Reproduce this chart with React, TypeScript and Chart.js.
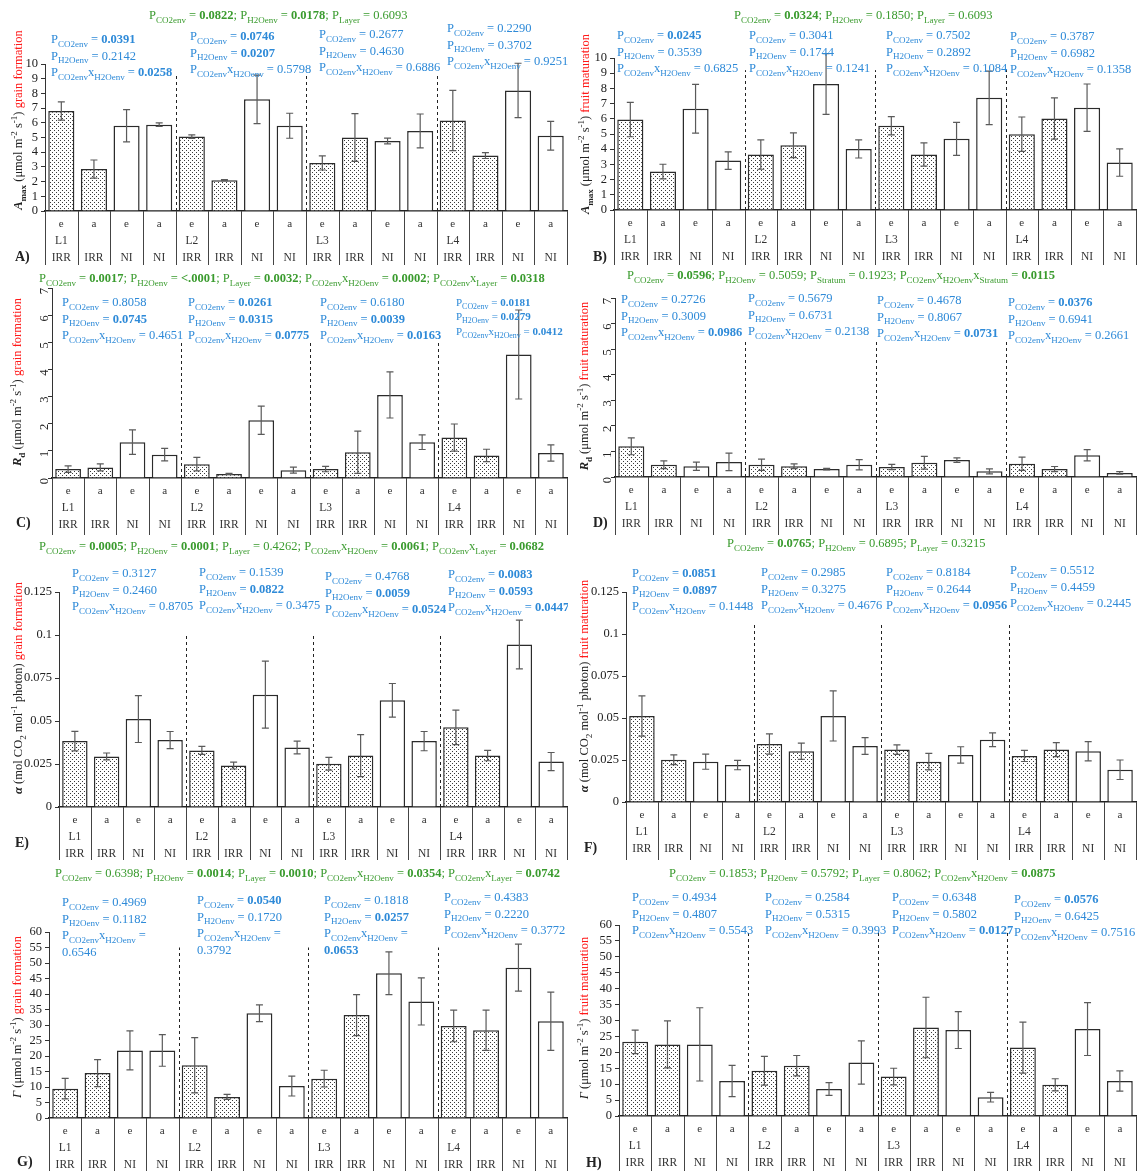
import React, { useEffect, useRef } from 'react';
import { Chart, registerables } from 'chart.js';

Chart.register(...registerables);

const FONT = '"Liberation Serif", "Times New Roman", Times, serif';
const BLUE = '#2e8ad8';
const GREEN = '#3a9b2e';
const RED = '#ff1a1a';
const INK = '#222222';
const TXT = 12.5;

// ---------- categories ----------
const envLabels = ['e', 'a', 'e', 'a', 'e', 'a', 'e', 'a', 'e', 'a', 'e', 'a', 'e', 'a', 'e', 'a'];
const layerLabels = ['L1', '', '', '', 'L2', '', '', '', 'L3', '', '', '', 'L4', '', '', ''];
const waterLabels = ['IRR', 'IRR', 'NI', 'NI', 'IRR', 'IRR', 'NI', 'NI', 'IRR', 'IRR', 'NI', 'NI', 'IRR', 'IRR', 'NI', 'NI'];

// ---------- series values (mean, error) ----------
const amaxGrain = [6.8, 2.85, 5.8, 5.87, 5.06, 2.1, 7.6, 5.8, 3.27, 5.0, 4.76, 5.45, 6.16, 3.77, 8.2, 5.12];
const amaxGrainErr = [0.62, 0.62, 1.1, 0.12, 0.12, 0.04, 1.65, 0.85, 0.48, 1.62, 0.2, 1.15, 2.05, 0.2, 1.85, 0.98];

const amaxFruit = [5.95, 2.53, 6.66, 3.25, 3.65, 4.26, 8.29, 4.02, 5.54, 3.65, 4.68, 7.38, 4.99, 6.02, 6.73, 3.12];
const amaxFruitErr = [1.13, 0.48, 1.6, 0.58, 0.97, 0.82, 2.0, 0.6, 0.6, 0.76, 1.08, 1.76, 1.13, 1.36, 1.56, 0.9];

const rdGrain = [0.33, 0.39, 1.32, 0.86, 0.51, 0.15, 2.13, 0.29, 0.33, 0.95, 3.06, 1.32, 1.49, 0.83, 4.55, 0.92];
const rdGrainErr = [0.12, 0.13, 0.45, 0.23, 0.25, 0.02, 0.52, 0.11, 0.1, 0.78, 0.85, 0.27, 0.5, 0.23, 1.64, 0.3];

const rdFruit = [1.2, 0.48, 0.42, 0.59, 0.48, 0.42, 0.31, 0.48, 0.39, 0.56, 0.66, 0.22, 0.52, 0.31, 0.85, 0.16];
const rdFruitErr = [0.33, 0.15, 0.16, 0.34, 0.22, 0.09, 0.03, 0.2, 0.1, 0.25, 0.09, 0.1, 0.26, 0.1, 0.22, 0.05];

const alphaGrain = [0.0383, 0.0294, 0.0511, 0.0389, 0.0329, 0.0241, 0.0653, 0.0346, 0.0251, 0.0299, 0.062, 0.0383, 0.0463, 0.0299, 0.0945, 0.0264];
const alphaGrainErr = [0.0057, 0.002, 0.0136, 0.005, 0.0023, 0.002, 0.0195, 0.0037, 0.0037, 0.0122, 0.0098, 0.0056, 0.01, 0.003, 0.0142, 0.0053];

const alphaFruit = [0.0512, 0.0252, 0.024, 0.022, 0.0345, 0.0302, 0.0512, 0.0333, 0.0312, 0.024, 0.028, 0.0371, 0.0274, 0.0312, 0.0302, 0.0192];
const alphaFruitErr = [0.012, 0.0029, 0.0045, 0.0028, 0.006, 0.0048, 0.0149, 0.005, 0.0028, 0.0049, 0.0049, 0.0041, 0.0033, 0.0042, 0.0057, 0.0058];

const gammaGrain = [9.46, 14.5, 21.8, 21.8, 17.0, 6.8, 33.8, 10.3, 12.7, 33.2, 46.7, 37.6, 29.7, 28.3, 48.5, 31.2];
const gammaGrainErr = [3.3, 4.35, 6.3, 5.1, 8.9, 0.8, 2.7, 3.2, 2.7, 6.6, 6.9, 7.6, 5.1, 6.5, 7.6, 9.4];

const gammaFruit = [23.3, 22.5, 22.5, 11.0, 14.2, 15.8, 8.5, 16.8, 12.4, 27.8, 27.0, 5.9, 21.5, 9.8, 27.3, 11.0];
const gammaFruitErr = [3.7, 7.4, 11.5, 4.9, 4.5, 3.2, 2.0, 6.8, 2.6, 9.5, 5.8, 1.5, 8.0, 1.9, 8.3, 3.2];

// ---------- p-values ----------
const layerTerms = ['CO2env', 'H2Oenv', 'CO2env|H2Oenv'];

const pMainA: [string, string][] = [['CO2env', '0.0822'], ['H2Oenv', '0.0178'], ['Layer', '0.6093']];
const pLayersA = [['0.0391', '0.2142', '0.0258'], ['0.0746', '0.0207', '0.5798'], ['0.2677', '0.4630', '0.6886'], ['0.2290', '0.3702', '0.9251']];

const pMainB: [string, string][] = [['CO2env', '0.0324'], ['H2Oenv', '0.1850'], ['Layer', '0.6093']];
const pLayersB = [['0.0245', '0.3539', '0.6825'], ['0.3041', '0.1744', '0.1241'], ['0.7502', '0.2892', '0.1084'], ['0.3787', '0.6982', '0.1358']];

const pMainC: [string, string][] = [['CO2env', '0.0017'], ['H2Oenv', '<.0001'], ['Layer', '0.0032'], ['CO2env|H2Oenv', '0.0002'], ['CO2env|Layer', '0.0318']];
const pLayersC = [['0.8058', '0.0745', '0.4651'], ['0.0261', '0.0315', '0.0775'], ['0.6180', '0.0039', '0.0163'], ['0.0181', '0.0279', '0.0412']];

const pMainD: [string, string][] = [['CO2env', '0.0596'], ['H2Oenv', '0.5059'], ['Stratum', '0.1923'], ['CO2env|H2Oenv|Stratum', '0.0115']];
const pLayersD = [['0.2726', '0.3009', '0.0986'], ['0.5679', '0.6731', '0.2138'], ['0.4678', '0.8067', '0.0731'], ['0.0376', '0.6941', '0.2661']];

const pMainE: [string, string][] = [['CO2env', '0.0005'], ['H2Oenv', '0.0001'], ['Layer', '0.4262'], ['CO2env|H2Oenv', '0.0061'], ['CO2env|Layer', '0.0682']];
const pLayersE = [['0.3127', '0.2460', '0.8705'], ['0.1539', '0.0822', '0.3475'], ['0.4768', '0.0059', '0.0524'], ['0.0083', '0.0593', '0.0447']];

const pMainF: [string, string][] = [['CO2env', '0.0765'], ['H2Oenv', '0.6895'], ['Layer', '0.3215']];
const pLayersF = [['0.0851', '0.0897', '0.1448'], ['0.2985', '0.3275', '0.4676'], ['0.8184', '0.2644', '0.0956'], ['0.5512', '0.4459', '0.2445']];

const pMainG: [string, string][] = [['CO2env', '0.6398'], ['H2Oenv', '0.0014'], ['Layer', '0.0010'], ['CO2env|H2Oenv', '0.0354'], ['CO2env|Layer', '0.0742']];
const pLayersG = [['0.4969', '0.1182', '0.6546'], ['0.0540', '0.1720', '0.3792'], ['0.1818', '0.0257', '0.0653'], ['0.4383', '0.2220', '0.3772']];

const pMainH: [string, string][] = [['CO2env', '0.1853'], ['H2Oenv', '0.5792'], ['Layer', '0.8062'], ['CO2env|H2Oenv', '0.0875']];
const pLayersH = [['0.4934', '0.4807', '0.5543'], ['0.2584', '0.5315', '0.3993'], ['0.6348', '0.5802', '0.0127'], ['0.0576', '0.6425', '0.7516']];

// ---------- rich text ----------
type Seg = { t: string; sub?: boolean; sup?: boolean; b?: boolean; i?: boolean; c?: string };

const isSig = (v: string) => v.startsWith('<') || parseFloat(v) < 0.1;

function pSegs(term: string, value: string, withValue = true): Seg[] {
  const segs: Seg[] = [{ t: 'P' }];
  term.split('|').forEach((p, k) => {
    if (k) segs.push({ t: 'x' });
    segs.push({ t: p, sub: true });
  });
  segs.push({ t: ' = ' });
  if (withValue) segs.push({ t: value, b: isSig(value) });
  return segs;
}

function segFont(s: Seg, size: number) {
  const sz = s.sub || s.sup ? size * 0.72 : size;
  return `${s.i ? 'italic ' : ''}${s.b ? 'bold ' : ''}${sz}px ${FONT}`;
}

function measureRich(ctx: CanvasRenderingContext2D, segs: Seg[], size: number) {
  let w = 0;
  for (const s of segs) {
    ctx.font = segFont(s, size);
    w += ctx.measureText(s.t).width;
  }
  return w;
}

function drawRich(ctx: CanvasRenderingContext2D, segs: Seg[], x: number, yMid: number, size: number, color: string) {
  let cx = x;
  const base = yMid + size * 0.33;
  ctx.textAlign = 'left';
  ctx.textBaseline = 'alphabetic';
  for (const s of segs) {
    ctx.font = segFont(s, size);
    ctx.fillStyle = s.c || color;
    const dy = s.sub ? size * 0.3 : s.sup ? -size * 0.4 : 0;
    ctx.fillText(s.t, cx, base + dy);
    cx += ctx.measureText(s.t).width;
  }
}

const unitSegs: Seg[] = [{ t: ' (μmol m' }, { t: '-2', sup: true }, { t: ' s' }, { t: '-1', sup: true }, { t: ') ' }];
const titleAmax: Seg[] = [{ t: 'A', b: true, i: true }, { t: 'max', sub: true, b: true }, ...unitSegs];
const titleRd: Seg[] = [{ t: 'R', b: true, i: true }, { t: 'd', sub: true, b: true }, ...unitSegs];
const titleAlpha: Seg[] = [{ t: 'α', b: true, i: true }, { t: ' (mol CO' }, { t: '2', sub: true }, { t: ' mol' }, { t: '-1', sup: true }, { t: ' photon) ' }];
const titleGamma: Seg[] = [{ t: 'Γ', i: true }, ...unitSegs];

// ---------- panel layout ----------
type PanelCfg = {
  letter: string;
  values: number[];
  errors: number[];
  yMax: number;
  yStep: number;
  rotateTicks?: boolean;
  title: Seg[];
  stage: string;
  pMain: [string, string][];
  pLayers: string[][];
  rect: { x: number; y: number; w: number; h: number };
  area: { left: number; top: number; bottom: number };
  dashTop: number;
  titlePos: [number, number];
  greenPos: [number, number];
  blockPos: [number, number][];
  blockScale?: number[];
  wrap?: boolean[];
  letterPos: [number, number];
};

const panels: PanelCfg[] = [
  {
    letter: 'A)', values: amaxGrain, errors: amaxGrainErr, yMax: 10, yStep: 1, title: titleAmax, stage: 'grain formation',
    pMain: pMainA, pLayers: pLayersA, rect: { x: 0, y: 0, w: 568, h: 265 }, area: { left: 45, top: 64, bottom: 211 },
    dashTop: 9.3, titlePos: [18, 120], greenPos: [149, 15], blockPos: [[51, 39], [190, 36], [319, 34], [447, 28]], letterPos: [15, 257],
  },
  {
    letter: 'B)', values: amaxFruit, errors: amaxFruitErr, yMax: 10, yStep: 1, title: titleAmax, stage: 'fruit maturation',
    pMain: pMainB, pLayers: pLayersB, rect: { x: 567, y: 0, w: 570, h: 265 }, area: { left: 47, top: 58, bottom: 210 },
    dashTop: 9.2, titlePos: [18, 124], greenPos: [167, 15], blockPos: [[50, 35], [182, 35], [319, 35], [443, 36]], letterPos: [26, 257],
  },
  {
    letter: 'C)', values: rdGrain, errors: rdGrainErr, yMax: 7, yStep: 1, rotateTicks: true, title: titleRd, stage: 'grain formation',
    pMain: pMainC, pLayers: pLayersC, rect: { x: 0, y: 265, w: 568, h: 270 }, area: { left: 52, top: 23, bottom: 213 },
    dashTop: 5.0, titlePos: [17, 117], greenPos: [39, 13], blockPos: [[62, 37], [188, 37], [320, 37], [456, 37]],
    blockScale: [1, 1, 1, 0.88], letterPos: [16, 258],
  },
  {
    letter: 'D)', values: rdFruit, errors: rdFruitErr, yMax: 7, yStep: 1, rotateTicks: true, title: titleRd, stage: 'fruit maturation',
    pMain: pMainD, pLayers: pLayersD, rect: { x: 567, y: 265, w: 570, h: 270 }, area: { left: 48, top: 33, bottom: 212 },
    dashTop: 5.3, titlePos: [17, 121], greenPos: [60, 10], blockPos: [[54, 34], [181, 33], [310, 35], [441, 37]], letterPos: [26, 258],
  },
  {
    letter: 'E)', values: alphaGrain, errors: alphaGrainErr, yMax: 0.125, yStep: 0.025, title: titleAlpha, stage: 'grain formation',
    pMain: pMainE, pLayers: pLayersE, rect: { x: 0, y: 535, w: 568, h: 325 }, area: { left: 59, top: 57, bottom: 272 },
    dashTop: 0.1, titlePos: [18, 153], greenPos: [39, 11], blockPos: [[72, 38], [199, 37], [325, 41], [448, 39]], letterPos: [15, 308],
  },
  {
    letter: 'F)', values: alphaFruit, errors: alphaFruitErr, yMax: 0.125, yStep: 0.025, title: titleAlpha, stage: 'fruit maturation',
    pMain: pMainF, pLayers: pLayersF, rect: { x: 567, y: 535, w: 570, h: 325 }, area: { left: 59, top: 57, bottom: 267 },
    dashTop: 0.107, titlePos: [17, 151], greenPos: [160, 8], blockPos: [[65, 38], [194, 37], [319, 37], [443, 35]], letterPos: [17, 313],
  },
  {
    letter: 'G)', values: gammaGrain, errors: gammaGrainErr, yMax: 60, yStep: 5, title: titleGamma, stage: 'grain formation',
    pMain: pMainG, pLayers: pLayersG, rect: { x: 0, y: 860, w: 568, h: 311 }, area: { left: 49, top: 72, bottom: 258 },
    dashTop: 55, titlePos: [17, 157], greenPos: [55, 13], blockPos: [[62, 42], [197, 40], [324, 40], [444, 37]],
    wrap: [true, true, true, false], letterPos: [17, 302],
  },
  {
    letter: 'H)', values: gammaFruit, errors: gammaFruitErr, yMax: 60, yStep: 5, title: titleGamma, stage: 'fruit maturation',
    pMain: pMainH, pLayers: pLayersH, rect: { x: 567, y: 860, w: 570, h: 311 }, area: { left: 52, top: 65, bottom: 256 },
    dashTop: 58, titlePos: [17, 158], greenPos: [102, 13], blockPos: [[65, 37], [198, 37], [325, 37], [447, 39]], letterPos: [19, 303],
  },
];

function makePattern(ctx: CanvasRenderingContext2D) {
  const c = document.createElement('canvas');
  c.width = 4;
  c.height = 4;
  const g = c.getContext('2d')!;
  g.fillStyle = '#ffffff';
  g.fillRect(0, 0, 4, 4);
  g.fillStyle = '#3a3a3a';
  g.fillRect(0, 0, 1, 1);
  g.fillRect(2, 2, 1, 1);
  return ctx.createPattern(c, 'repeat')!;
}

function Panel({ cfg }: { cfg: PanelCfg }) {
  const ref = useRef<HTMLCanvasElement>(null);

  useEffect(() => {
    const canvas = ref.current!;
    const ctx0 = canvas.getContext('2d')!;
    const pattern = makePattern(ctx0);
    const { rect, area } = cfg;

    const overlay = {
      id: 'overlay',
      afterDatasetsDraw(chart: any) {
        const { ctx, scales } = chart;
        const xs = scales.x;
        const ys = scales.y;
        const meta = chart.getDatasetMeta(0);
        ctx.save();
        // error bars
        ctx.strokeStyle = '#5a5a5a';
        ctx.lineWidth = 1.2;
        meta.data.forEach((bar: any, i: number) => {
          const v = cfg.values[i];
          const e = cfg.errors[i];
          const x = bar.x;
          const yt = ys.getPixelForValue(v + e);
          const yb = ys.getPixelForValue(Math.max(v - e, 0));
          ctx.beginPath();
          ctx.moveTo(x, yt);
          ctx.lineTo(x, yb);
          ctx.moveTo(x - 3.5, yt);
          ctx.lineTo(x + 3.5, yt);
          ctx.moveTo(x - 3.5, yb);
          ctx.lineTo(x + 3.5, yb);
          ctx.stroke();
        });
        // dashed separators between layers
        ctx.strokeStyle = '#222';
        ctx.lineWidth = 1;
        ctx.setLineDash([3, 3]);
        [4, 8, 12].forEach((k) => {
          const x = Math.round((xs.getPixelForValue(k - 1) + xs.getPixelForValue(k)) / 2) + 0.5;
          ctx.beginPath();
          ctx.moveTo(x, ys.getPixelForValue(0));
          ctx.lineTo(x, ys.getPixelForValue(cfg.dashTop));
          ctx.stroke();
        });
        ctx.restore();
      },
      afterDraw(chart: any) {
        const { ctx, chartArea, scales } = chart;
        const xs = scales.x;
        const n = envLabels.length;
        const centers = envLabels.map((_, i) => xs.getPixelForValue(i));
        const half = (centers[1] - centers[0]) / 2;
        ctx.save();
        // category table below axis
        ctx.strokeStyle = '#444';
        ctx.lineWidth = 1;
        for (let i = 0; i <= n; i++) {
          const xb = i < n ? centers[i] - half : centers[n - 1] + half;
          const x = Math.min(Math.round(xb) + 0.5, chart.width - 0.5);
          ctx.beginPath();
          ctx.moveTo(x, chartArea.bottom);
          ctx.lineTo(x, chart.height);
          ctx.stroke();
        }
        ctx.fillStyle = '#333';
        ctx.textAlign = 'center';
        ctx.textBaseline = 'middle';
        centers.forEach((cx: number, i: number) => {
          ctx.font = `11px ${FONT}`;
          ctx.fillText(envLabels[i], cx, chartArea.bottom + 13);
          ctx.font = `11.5px ${FONT}`;
          if (layerLabels[i]) ctx.fillText(layerLabels[i], cx, chartArea.bottom + 30);
          ctx.fillText(waterLabels[i], cx, chartArea.bottom + 47);
        });

        // panel letter
        ctx.font = `bold 14px ${FONT}`;
        ctx.fillStyle = INK;
        ctx.textAlign = 'left';
        ctx.fillText(cfg.letter, cfg.letterPos[0], cfg.letterPos[1]);

        // y-axis title
        const tsegs: Seg[] = [...cfg.title, { t: cfg.stage, c: RED }];
        const tw = measureRich(ctx, tsegs, TXT);
        ctx.save();
        ctx.translate(cfg.titlePos[0], cfg.titlePos[1]);
        ctx.rotate(-Math.PI / 2);
        drawRich(ctx, tsegs, -tw / 2, 0, TXT, INK);
        ctx.restore();

        // overall ANOVA line (green)
        const green: Seg[] = [];
        cfg.pMain.forEach((m, k) => {
          if (k) green.push({ t: '; ' });
          green.push(...pSegs(m[0], m[1]));
        });
        drawRich(ctx, green, cfg.greenPos[0], cfg.greenPos[1], TXT, GREEN);

        // per layer blocks (blue)
        cfg.pLayers.forEach((vals, j) => {
          const [bx, by] = cfg.blockPos[j];
          const sc = cfg.blockScale ? cfg.blockScale[j] : 1;
          const size = TXT * sc;
          const lines: Seg[][] = [];
          vals.forEach((v, k) => {
            if (k === 2 && cfg.wrap && cfg.wrap[j]) {
              lines.push(pSegs(layerTerms[k], v, false));
              lines.push([{ t: v, b: isSig(v) }]);
            } else {
              lines.push(pSegs(layerTerms[k], v));
            }
          });
          lines.forEach((ln, k) => drawRich(ctx, ln, bx, by + k * 16.5 * sc, size, BLUE));
        });
        ctx.restore();
      },
    };

    const chart = new Chart(canvas, {
      type: 'bar',
      data: {
        labels: envLabels.map((e, i) => `${e} ${layerLabels[i]} ${waterLabels[i]}`),
        datasets: [
          {
            data: cfg.values,
            backgroundColor: cfg.values.map((_, i) => (waterLabels[i] === 'IRR' ? pattern : '#ffffff')),
            borderColor: '#2b2b2b',
            borderWidth: 1.5,
            barPercentage: 0.8,
            categoryPercentage: 1.0,
          },
        ],
      },
      options: {
        responsive: false,
        animation: false,
        devicePixelRatio: 1,
        layout: { padding: { top: area.top, left: 0, right: 1, bottom: 0 } },
        plugins: { legend: { display: false }, tooltip: { enabled: false }, title: { display: false } },
        scales: {
          x: {
            type: 'category',
            offset: true,
            ticks: { display: false },
            grid: { display: false },
            border: { display: true, color: '#222', width: 1.5 },
            afterFit: (s: any) => {
              s.height = rect.h - area.bottom;
            },
          },
          y: {
            min: 0,
            max: cfg.yMax,
            ticks: {
              stepSize: cfg.yStep,
              autoSkip: false,
              color: INK,
              padding: 3,
              font: { family: FONT, size: 12.5, lineHeight: 1 },
              minRotation: cfg.rotateTicks ? 90 : 0,
              maxRotation: cfg.rotateTicks ? 90 : 0,
              callback: (v: any) => String(parseFloat(Number(v).toFixed(4))),
            },
            grid: { drawOnChartArea: false, drawTicks: true, tickLength: 4, color: '#333' },
            border: { display: true, color: '#333', width: 1 },
            afterFit: (s: any) => {
              s.width = area.left;
            },
          },
        },
      } as any,
      plugins: [overlay],
    });
    return () => chart.destroy();
  }, [cfg]);

  return (
    <canvas
      ref={ref}
      width={cfg.rect.w}
      height={cfg.rect.h}
      style={{ position: 'absolute', left: cfg.rect.x, top: cfg.rect.y, width: cfg.rect.w, height: cfg.rect.h }}
    />
  );
}

export default function App() {
  return (
    <div style={{ position: 'absolute', left: 0, top: 0, width: 1137, height: 1171, background: '#ffffff', overflow: 'hidden' }}>
      {panels.map((p) => (
        <Panel key={p.letter} cfg={p} />
      ))}
    </div>
  );
}
